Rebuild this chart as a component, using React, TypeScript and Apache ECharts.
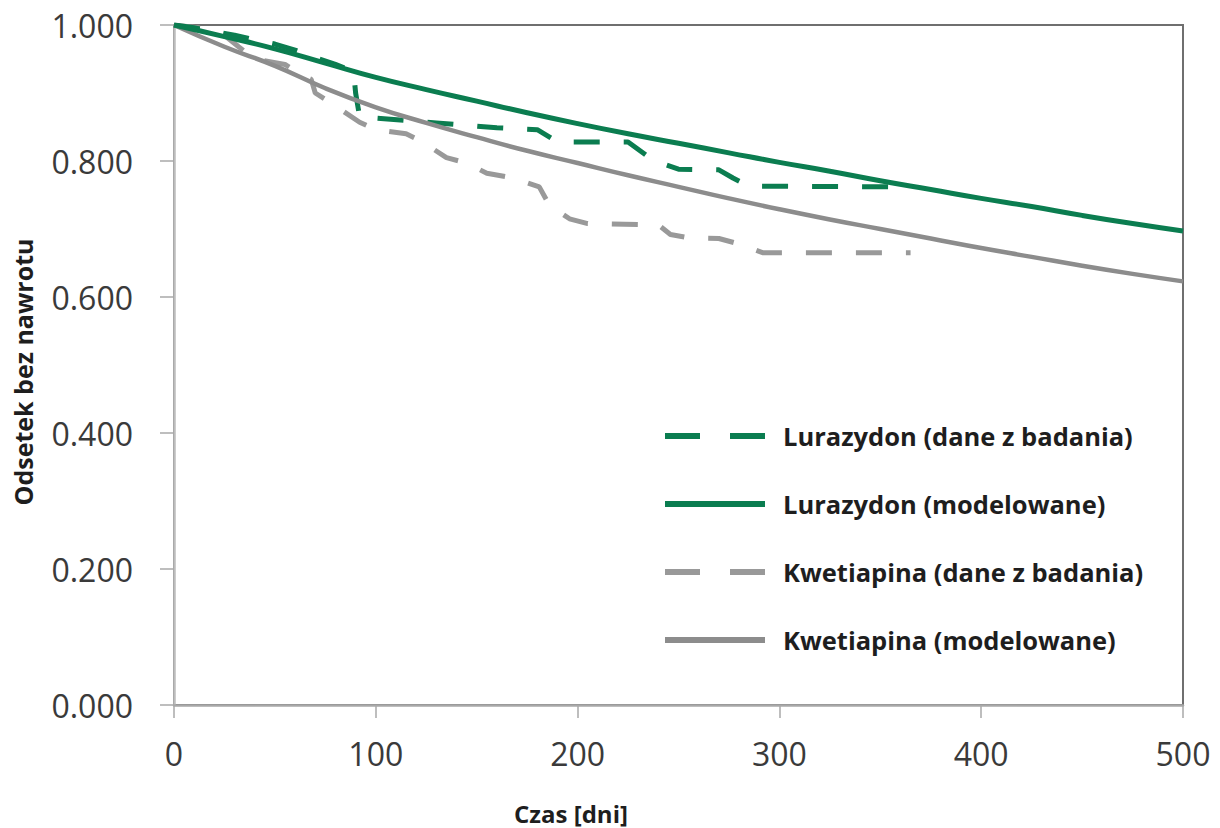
import React, { useEffect, useRef } from "react";
import * as echarts from "echarts";

// Time axis ticks (days) and proportion axis ticks
const xTicks = [0, 100, 200, 300, 400, 500];
const yTicks = [0, 0.2, 0.4, 0.6, 0.8, 1.0];

// Modelled relapse-free curves, sampled every 25 days
const modelDays = [0, 25, 50, 75, 100, 125, 150, 175, 200, 225, 250, 275, 300, 325, 350, 375, 400, 425, 450, 475, 500];
const lurasidoneModel = [1.0, 0.983, 0.965, 0.944, 0.923, 0.905, 0.888, 0.871, 0.855, 0.84, 0.826, 0.812, 0.798, 0.785, 0.771, 0.758, 0.745, 0.733, 0.72, 0.708, 0.697];
const quetiapineModel = [1.0, 0.968, 0.94, 0.907, 0.879, 0.856, 0.835, 0.815, 0.797, 0.779, 0.762, 0.745, 0.729, 0.714, 0.7, 0.686, 0.672, 0.659, 0.646, 0.634, 0.623];

// Trial (Kaplan-Meier) curves
const lurasidoneTrialDays = [0, 10, 20, 30, 40, 50, 60, 70, 80, 89, 90, 92, 100, 130, 160, 180, 190, 225, 238, 250, 270, 277, 285, 365];
const lurasidoneTrialValues = [1.0, 0.996, 0.99, 0.985, 0.978, 0.972, 0.963, 0.952, 0.942, 0.932, 0.9, 0.865, 0.863, 0.856, 0.849, 0.846, 0.828, 0.828, 0.8, 0.788, 0.787, 0.775, 0.763, 0.762];
const quetiapineTrialDays = [0, 15, 25, 32, 40, 55, 64, 68, 70, 78, 92, 100, 115, 122, 135, 145, 155, 168, 181, 186, 196, 205, 240, 246, 255, 270, 280, 292, 365];
const quetiapineTrialValues = [1.0, 0.995, 0.985, 0.968, 0.95, 0.942, 0.925, 0.92, 0.9, 0.885, 0.857, 0.846, 0.84, 0.83, 0.805, 0.797, 0.782, 0.775, 0.762, 0.735, 0.715, 0.708, 0.706, 0.692, 0.687, 0.686, 0.678, 0.665, 0.665];

const seriesNames = [
  "Lurazydon (dane z badania)",
  "Lurazydon (modelowane)",
  "Kwetiapina (dane z badania)",
  "Kwetiapina (modelowane)",
];

const GREEN = "#0b7d50";
const GRAY = "#8c8c8c";
const GRAY_DASH = "#999999";

// Legend keys: a long bar for solid lines, two short bars for dashed ones
const SOLID_ICON = "path://M0,0H100V6H0Z";
const DASHED_ICON = "path://M0,0H35V6H0Z M65,0H100V6H65Z";

const zip = (xs: number[], ys: number[]) => xs.map((x, i) => [x, ys[i]]);

export default function App() {
  const ref = useRef<HTMLDivElement>(null);

  useEffect(() => {
    if (!ref.current) return;
    const chart = echarts.init(ref.current, null, { renderer: "svg" });
    const font = "'Open Sans', 'DejaVu Sans', sans-serif";

    chart.setOption({
      animation: false,
      backgroundColor: "#ffffff",
      grid: {
        left: 174,
        right: 37,
        top: 25,
        bottom: 123,
        show: true,
        borderColor: "#6f6f6f",
        borderWidth: 2,
      },
      xAxis: {
        type: "value",
        min: xTicks[0],
        max: xTicks[xTicks.length - 1],
        interval: 100,
        axisLine: { show: true, lineStyle: { color: "#a8a8a8", width: 2.5 } },
        axisTick: { show: true, inside: false, length: 13, lineStyle: { color: "#a8a8a8", width: 1.5 } },
        splitLine: { show: false },
        axisLabel: { fontFamily: font, fontSize: 32, color: "#3a3a3a", margin: 32 },
      },
      yAxis: {
        type: "value",
        min: yTicks[0],
        max: yTicks[yTicks.length - 1],
        interval: 0.2,
        axisLine: { show: true, lineStyle: { color: "#bdbdbd", width: 2.5 } },
        axisTick: { show: true, inside: false, length: 14, lineStyle: { color: "#a8a8a8", width: 1.5 } },
        splitLine: { show: false },
        axisLabel: {
          fontFamily: font,
          fontSize: 32,
          color: "#3a3a3a",
          margin: 41,
          formatter: (v: number) => v.toFixed(3),
        },
      },
      legend: {
        orient: "vertical",
        left: 665,
        top: 421,
        padding: 0,
        itemWidth: 100,
        itemHeight: 6,
        itemGap: 38,
        textStyle: {
          fontFamily: font,
          fontWeight: "bold",
          fontSize: 25.5,
          color: "#1e1e1e",
          lineHeight: 30,
          padding: [0, 0, 0, 13],
        },
        data: [
          { name: seriesNames[0], icon: DASHED_ICON, itemStyle: { color: GREEN } },
          { name: seriesNames[1], icon: SOLID_ICON, itemStyle: { color: GREEN } },
          { name: seriesNames[2], icon: DASHED_ICON, itemStyle: { color: GRAY_DASH } },
          { name: seriesNames[3], icon: SOLID_ICON, itemStyle: { color: GRAY } },
        ],
      },
      graphic: [
        {
          type: "text",
          x: 23,
          y: 372,
          rotation: Math.PI / 2,
          style: {
            text: "Odsetek bez nawrotu",
            fontFamily: font,
            fontWeight: "bold",
            fontSize: 25,
            fill: "#1e1e1e",
            align: "center",
            verticalAlign: "middle",
          },
        },
        {
          type: "text",
          x: 571,
          y: 813,
          style: {
            text: "Czas [dni]",
            fontFamily: font,
            fontWeight: "bold",
            fontSize: 24,
            fill: "#1e1e1e",
            align: "center",
            verticalAlign: "middle",
          },
        },
      ],
      series: [
        {
          name: seriesNames[0],
          type: "line",
          symbol: "none",
          data: zip(lurasidoneTrialDays, lurasidoneTrialValues),
          lineStyle: { color: GREEN, width: 5, type: [26, 24] },
          itemStyle: { color: GREEN },
          z: 3,
        },
        {
          name: seriesNames[1],
          type: "line",
          symbol: "none",
          smooth: true,
          data: zip(modelDays, lurasidoneModel),
          lineStyle: { color: GREEN, width: 5 },
          itemStyle: { color: GREEN },
          z: 4,
        },
        {
          name: seriesNames[2],
          type: "line",
          symbol: "none",
          data: zip(quetiapineTrialDays, quetiapineTrialValues),
          lineStyle: { color: GRAY_DASH, width: 5, type: [26, 24] },
          itemStyle: { color: GRAY_DASH },
          z: 2,
        },
        {
          name: seriesNames[3],
          type: "line",
          symbol: "none",
          smooth: true,
          data: zip(modelDays, quetiapineModel),
          lineStyle: { color: GRAY, width: 4.5 },
          itemStyle: { color: GRAY },
          z: 3,
        },
      ],
    });

    return () => chart.dispose();
  }, []);

  return (
    <div
      ref={ref}
      style={{ position: "fixed", left: 0, top: 0, width: 1220, height: 828, background: "#fff" }}
    />
  );
}
